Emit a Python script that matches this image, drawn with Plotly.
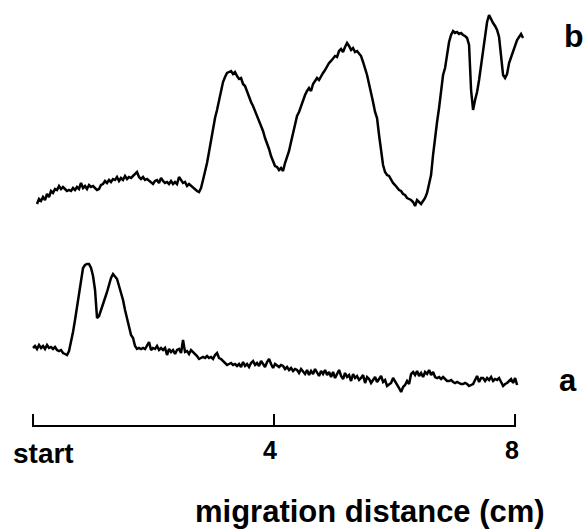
import plotly.graph_objects as go

# Densitometer scans (relative absorbance, arbitrary units), sampled every 0.0332 cm
scan_step_cm = 0.0332
a_start_cm = 0.0
b_start_cm = 0.066

trace_a = [52, 54, 51, 55, 52, 54, 51, 55, 52, 53, 51, 53, 50, 49, 50, 47, 46, 45, 49, 58,
           68, 80, 92, 108, 120, 132, 135, 136, 136, 132, 124, 110, 82, 84, 90, 95, 102, 108, 116, 122,
           126, 124, 121, 114, 107, 100, 90, 82, 72, 65, 62, 54, 51, 52, 51, 52, 51, 54, 58, 50,
           52, 51, 54, 50, 52, 50, 52, 45, 51, 48, 50, 46, 50, 51, 47, 60, 48, 49, 46, 50,
           48, 47, 44, 41, 42, 43, 42, 44, 42, 43, 41, 45, 47, 42, 41, 39, 36, 35, 36, 37,
           35, 36, 34, 36, 33, 38, 34, 36, 33, 37, 39, 35, 37, 34, 39, 36, 33, 38, 41, 36,
           32, 36, 34, 33, 35, 34, 31, 33, 30, 32, 29, 31, 30, 27, 31, 28, 26, 30, 25, 29,
           26, 31, 27, 24, 29, 26, 30, 25, 28, 23, 28, 22, 26, 30, 24, 21, 27, 23, 25, 19,
           26, 22, 24, 20, 22, 25, 17, 23, 21, 17, 20, 23, 18, 21, 24, 18, 20, 14, 16, 17,
           22, 19, 15, 12, 8, 13, 15, 19, 16, 26, 28, 25, 29, 24, 27, 23, 28, 26, 30, 25,
           28, 23, 22, 23, 21, 23, 21, 19, 19, 20, 18, 17, 18, 17, 16, 16, 17, 16, 14, 15,
           16, 20, 24, 18, 22, 22, 19, 22, 20, 23, 19, 21, 20, 22, 18, 14, 16, 17, 19, 21,
           17, 22, 15]

trace_b = [196, 201, 199, 203, 200, 206, 203, 209, 207, 211, 210, 214, 211, 213, 211, 209, 210, 209, 212, 210,
           213, 211, 217, 212, 214, 211, 215, 213, 214, 212, 210, 211, 215, 216, 219, 217, 220, 218, 221, 220,
           223, 219, 222, 220, 224, 221, 223, 222, 224, 226, 228, 223, 221, 223, 220, 221, 219, 218, 216, 219,
           220, 217, 222, 219, 217, 218, 216, 219, 216, 218, 216, 223, 220, 217, 218, 214, 216, 214, 212, 210,
           209, 208, 212, 220, 228, 237, 248, 260, 272, 282, 290, 300, 310, 318, 323, 327, 328, 329, 326, 328,
           324, 321, 322, 316, 314, 308, 303, 298, 294, 289, 285, 280, 273, 269, 262, 257, 251, 244, 238, 234,
           233, 230, 232, 229, 237, 243, 249, 258, 266, 277, 284, 288, 294, 300, 305, 309, 312, 309, 316, 319,
           322, 320, 324, 327, 330, 334, 337, 339, 341, 344, 343, 349, 351, 348, 353, 357, 354, 350, 352, 348,
           349, 347, 344, 338, 332, 325, 316, 308, 298, 288, 282, 265, 247, 235, 228, 225, 224, 220, 217, 215,
           212, 210, 209, 206, 205, 202, 201, 200, 198, 194, 200, 198, 196, 199, 202, 207, 215, 225, 245, 265,
           278, 292, 310, 325, 332, 345, 358, 365, 369, 367, 368, 366, 367, 365, 364, 362, 355, 310, 290, 300,
           308, 320, 335, 352, 367, 378, 385, 380, 377, 374, 370, 363, 345, 325, 322, 326, 337, 343, 350, 354,
           360, 363, 366, 362]

scale_ticks_cm = [0, 4, 8]
scale_labels = ["start", "4", "8"]
axis_title = "migration distance (cm)"
trace_labels = ["a", "b"]

xa = [a_start_cm + scan_step_cm * i for i in range(len(trace_a))]
xb = [b_start_cm + scan_step_cm * i for i in range(len(trace_b))]

fig = go.Figure()
line_style = dict(color="black", width=2.5)
fig.add_trace(go.Scatter(x=xb, y=trace_b, mode="lines", line=line_style, hoverinfo="skip"))
fig.add_trace(go.Scatter(x=xa, y=trace_a, mode="lines", line=line_style, hoverinfo="skip"))

# scale bar
bar_y, tick_top = -26, -14
sx = [scale_ticks_cm[0], scale_ticks_cm[0], scale_ticks_cm[-1], scale_ticks_cm[-1], None,
      scale_ticks_cm[1], scale_ticks_cm[1]]
sy = [tick_top, bar_y, bar_y, tick_top, None, bar_y, tick_top]
fig.add_trace(go.Scatter(x=sx, y=sy, mode="lines", line=dict(color="black", width=2),
                         hoverinfo="skip"))

font_fam = "Liberation Sans, Arial, sans-serif"
ann = []
ann.append(dict(x=0.18, y=-53, text=scale_labels[0], font=dict(size=28)))
ann.append(dict(x=3.94, y=-50, text=scale_labels[1], font=dict(size=25)))
ann.append(dict(x=7.95, y=-50, text=scale_labels[2], font=dict(size=25)))
ann.append(dict(x=5.6, y=-111, text=axis_title, font=dict(size=31)))
ann.append(dict(x=8.88, y=20, text=trace_labels[0], font=dict(size=31)))
ann.append(dict(x=8.98, y=364, text=trace_labels[1], font=dict(size=32)))
for a in ann:
    a.update(xref="x", yref="y", showarrow=False, xanchor="center", yanchor="middle")
    a["text"] = "<b>" + a["text"] + "</b>"
    a["font"].update(family=font_fam, color="black")

fig.update_layout(
    width=586, height=531,
    margin=dict(l=0, r=0, t=0, b=0),
    paper_bgcolor="white", plot_bgcolor="white",
    showlegend=False,
    annotations=ann,
    xaxis=dict(range=[-0.548, 9.178], visible=False, fixedrange=True),
    yaxis=dict(range=[-131, 400], visible=False, fixedrange=True),
)

fig.write_html("out.html")
